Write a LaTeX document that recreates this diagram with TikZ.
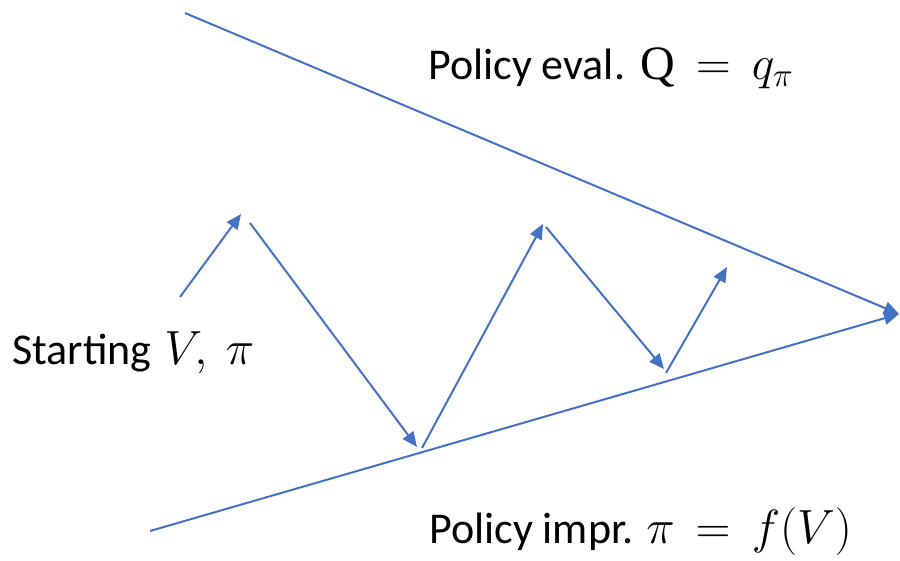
\RequirePackage{fix-cm}
\documentclass[tikz,border=0pt]{standalone}
\usepackage{fontspec}
\setmainfont{Carlito}
\newfontfamily\mserif{Liberation Serif}
\usetikzlibrary{arrows.meta}
\definecolor{lineblue}{RGB}{68,114,196}
\newcommand\mth[1]{{\fontsize{48}{56}\selectfont$#1$}}
\tikzset{
  flow/.style={draw=lineblue, line width=2pt, -{Triangle[length=15pt,width=13pt]}},
  lbl/.style={anchor=base west, inner sep=0pt, font=\fontsize{44}{52}\selectfont}
}
\begin{document}
\begin{tikzpicture}[x=1pt,y=-1pt]
\useasboundingbox (0,0) rectangle (900,560);
% named points
\coordinate (t0) at (185,13);
\coordinate (tip) at (899,314);
\coordinate (b0) at (150,531);
\coordinate (z0) at (180,297);
\coordinate (z1) at (241,214);
\coordinate (z1s) at (250,223);
\coordinate (z2) at (417,447);
\coordinate (z2s) at (422,448);
\coordinate (z3) at (543,224);
\coordinate (z3s) at (546,227);
\coordinate (z4) at (664,369);
\coordinate (z4s) at (666,373);
\coordinate (z5) at (727,267);
% boundary lines
\draw[flow] (t0) -- (tip);
\draw[flow] (b0) -- (tip);
% zigzag
\draw[flow] (z0) -- (z1);
\draw[flow] (z1s) -- (z2);
\draw[flow] (z2s) -- (z3);
\draw[flow] (z3s) -- (z4);
\draw[flow] (z4s) -- (z5);
% labels
\node[lbl] (eval) at (428,79) {Policy eval.\ \kern5pt\mth{\mbox{\mserif Q}\mkern3mu=\mkern3mu q_\pi}};
\node[lbl] (start) at (12,364) {Starting\ \kern3pt\mth{V,\mkern4mu\pi}};
\node[lbl] (impr) at (429,543) {Policy impr.\ \kern3pt\mth{\pi\mkern3mu=\mkern3mu f(V)}};
\end{tikzpicture}
\end{document}
